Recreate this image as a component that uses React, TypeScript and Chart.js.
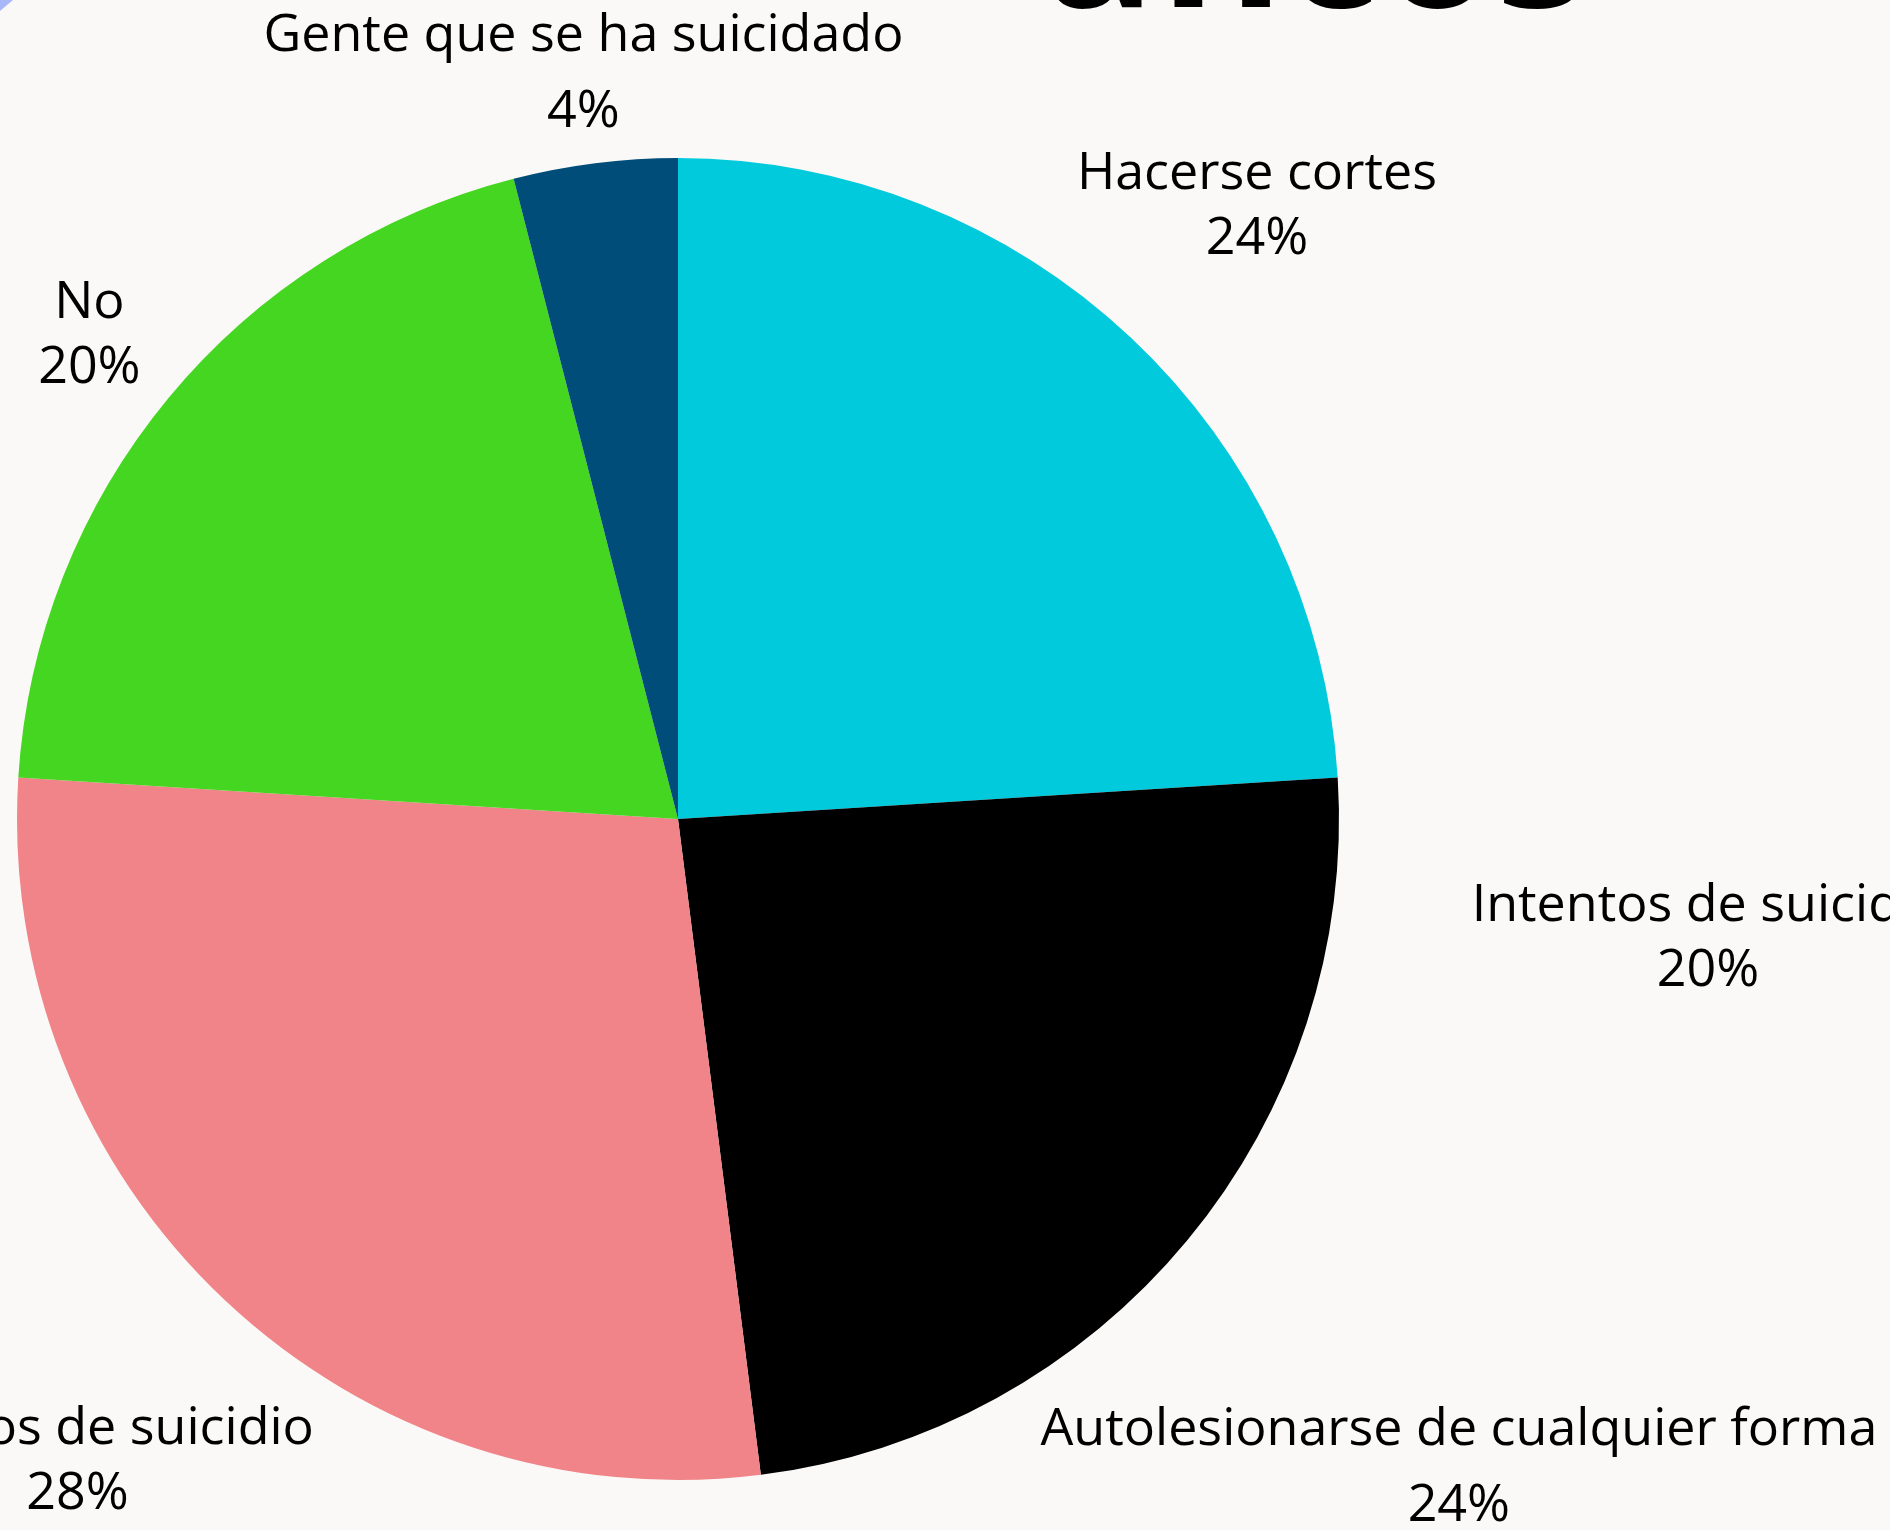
import React, { useEffect, useRef } from 'react';
import { Chart, registerables } from 'chart.js';

Chart.register(...registerables);

// ---- data ----
const categories = [
  'Hacerse cortes',
  'Autolesionarse de cualquier forma',
  'Intentos de suicidio',
  'No',
  'Gente que se ha suicidado',
];
const values = [24, 24, 28, 20, 4];
const sliceColors = ['#00CADB', '#000000', '#F08488', '#44D620', '#004D7A'];
const titleText = 'Gráficos';
const extraLabelLines = ['Intentos de suicidio', '20%'];

// ---- styles ----
const BG = '#FAF9F7';
const FONT_FAMILY = '"Open Sans", "Noto Sans", sans-serif';
const FONT_SIZE = 52;
const CAP = 37;
const LINE = 65;
const LINE_WIDE = 76;
const WIDE_LIMIT = 560;
const GAP = 31;

const labelPlugin = {
  id: 'outerLabels',
  beforeDraw(chart: any) {
    const ctx = chart.ctx as CanvasRenderingContext2D;
    ctx.save();
    ctx.fillStyle = BG;
    ctx.fillRect(0, 0, chart.width, chart.height);
    ctx.fillStyle = '#A9B8F9';
    ctx.beginPath();
    ctx.moveTo(0, 0);
    ctx.lineTo(13, 0);
    ctx.lineTo(0, 11);
    ctx.closePath();
    ctx.fill();
    ctx.restore();
  },
  afterDraw(chart: any) {
    const ctx = chart.ctx as CanvasRenderingContext2D;
    const meta = chart.getDatasetMeta(0);
    const data = chart.data.datasets[0].data as number[];
    const total = data.reduce((a, b) => a + b, 0);
    ctx.save();
    ctx.font = `${FONT_SIZE}px ${FONT_FAMILY}`;
    ctx.fillStyle = '#000';
    ctx.textAlign = 'center';
    ctx.textBaseline = 'alphabetic';
    let cxPie = 0, cyPie = 0, rPie = 0;
    meta.data.forEach((arc: any, i: number) => {
      const p = arc.getProps(['x', 'y', 'startAngle', 'endAngle', 'outerRadius'], true);
      cxPie = p.x; cyPie = p.y; rPie = p.outerRadius;
      const mid = (p.startAngle + p.endAngle) / 2;
      const lines = [String(chart.data.labels[i]), Math.round((data[i] / total) * 100) + '%'];
      const w = Math.max(...lines.map((l) => ctx.measureText(l).width));
      const lh = w > WIDE_LIMIT ? LINE_WIDE : LINE;
      const h = CAP + lh * (lines.length - 1);
      const ux = Math.cos(mid), uy = Math.sin(mid);
      const target = p.outerRadius + GAP;
      let lo = 0, hi = p.outerRadius * 3;
      for (let k = 0; k < 60; k++) {
        const t = (lo + hi) / 2;
        const bx = p.x + ux * t, by = p.y + uy * t;
        const dx = Math.max(Math.abs(bx - p.x) - w / 2, 0);
        const dy = Math.max(Math.abs(by - p.y) - h / 2, 0);
        if (Math.hypot(dx, dy) < target) lo = t; else hi = t;
      }
      const bx = p.x + ux * lo, by = p.y + uy * lo;
      const top = by - h / 2;
      lines.forEach((l, j) => ctx.fillText(l, bx, top + CAP + j * lh));
    });

    // extra free-standing label on the right
    const ang = ((96.4 - 90) * Math.PI) / 180;
    const dist = rPie * 1.568;
    const ex = cxPie + Math.cos(ang) * dist;
    const ey = cyPie + Math.sin(ang) * dist;
    const eh = CAP + LINE * (extraLabelLines.length - 1);
    extraLabelLines.forEach((l, j) => ctx.fillText(l, ex, ey - eh / 2 + CAP + j * LINE));

    // title (only its lower edge is visible)
    let size = 180;
    ctx.font = `bold ${size}px ${FONT_FAMILY}`;
    const wA = ctx.measureText(titleText.slice(2)).width;
    size = (size * 545) / wA;
    ctx.font = `bold ${size}px ${FONT_FAMILY}`;
    ctx.beginPath();
    ctx.rect(1040, 0, chart.width - 1040, 200);
    ctx.clip();
    ctx.textAlign = 'right';
    ctx.fillText(titleText, 1588, 7);
    ctx.restore();
  },
};

export default function App() {
  const ref = useRef<HTMLCanvasElement>(null);
  useEffect(() => {
    document.body.style.margin = '0';
    document.body.style.background = BG;
    const chart = new Chart(ref.current!, {
      type: 'pie',
      data: {
        labels: categories,
        datasets: [{ data: values, backgroundColor: sliceColors, borderWidth: 0 }],
      },
      options: {
        responsive: false,
        animation: false,
        devicePixelRatio: 1,
        layout: { padding: { left: 17, right: 551, top: 158, bottom: 50 } },
        plugins: { legend: { display: false }, tooltip: { enabled: false } },
      },
      plugins: [labelPlugin],
    } as any);
    return () => chart.destroy();
  }, []);
  return (
    <div style={{ position: 'absolute', left: 0, top: 0, width: 1890, height: 1530 }}>
      <canvas ref={ref} width={1890} height={1530} style={{ display: 'block', width: 1890, height: 1530 }} />
    </div>
  );
}
